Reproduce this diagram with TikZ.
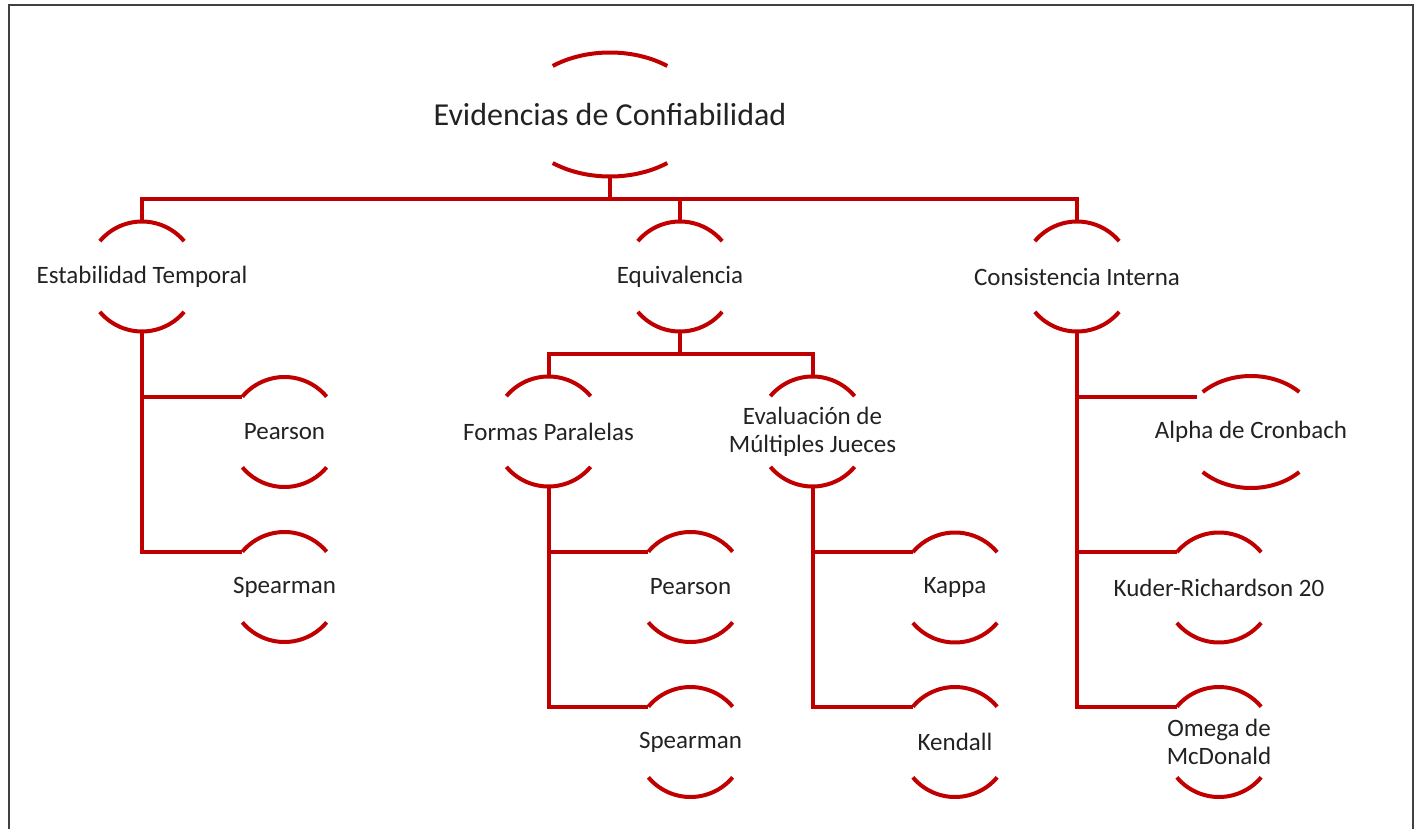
\documentclass[tikz,border=0pt]{standalone}
\usepackage{fontspec}
\setmainfont{Carlito}
\usetikzlibrary{shapes.geometric}
\definecolor{tred}{HTML}{C00000}
\definecolor{ttext}{HTML}{222222}
\tikzset{
  arcline/.style={draw=tred, line width=2pt},
  conn/.style={draw=tred, line width=2pt},
  lbl/.style={font=\fontsize{12.5}{14}\selectfont, text=ttext, align=center},
  titlelbl/.style={font=\fontsize{16}{19}\selectfont, text=ttext},
  cnode/.style={circle, minimum size=55pt, inner sep=0pt, outer sep=0pt},
  enode/.style={ellipse, inner sep=0pt, outer sep=0pt},
}
\newcommand\arcpair[4]{%
  \draw[arcline] (#1.center) ++({180-#4}:#2 and #3) arc[start angle={180-#4}, end angle=#4, x radius=#2, y radius=#3];
  \draw[arcline] (#1.center) ++({180+#4}:#2 and #3) arc[start angle={180+#4}, end angle={360-#4}, x radius=#2, y radius=#3];}
\begin{document}
\begin{tikzpicture}[x=0.5pt,y=0.5pt]
\useasboundingbox (0,0) rectangle (1423,-829);
\begin{scope}
\clip (0,0) rectangle (1423,-829);
\draw[black!75, line width=1pt] (9,-5) rectangle (1413,-900);
\end{scope}

% nodes
\node[enode, minimum width=92pt, minimum height=62pt, label={[titlelbl]center:Evidencias de Confiabilidad}] (root) at (610,-114.5) {};
\node[cnode, label={[lbl]center:Estabilidad Temporal}] (et) at (142,-276.5) {};
\node[cnode, label={[lbl]center:Equivalencia}] (eq) at (680,-276.5) {};
\node[cnode, label={[lbl]center:Consistencia Interna}] (ci) at (1077,-276.5) {};
\node[cnode, label={[lbl]center:Formas Paralelas}] (fp) at (548.5,-431.5) {};
\node[cnode, label={[lbl]center:Evaluación de\\Múltiples Jueces}] (ev) at (812.5,-431.5) {};
\node[cnode, label={[lbl]center:Pearson}] (p1) at (284.5,-432) {};
\node[cnode, label={[lbl]center:Spearman}] (s1) at (284.5,-587) {};
\node[cnode, label={[lbl]center:Pearson}] (p2) at (690.5,-587) {};
\node[cnode, label={[lbl]center:Spearman}] (s2) at (690.5,-742) {};
\node[cnode, label={[lbl]center:Kappa}] (k1) at (955,-587.5) {};
\node[cnode, label={[lbl]center:Kendall}] (k2) at (955,-742) {};
\node[enode, minimum width=69pt, minimum height=56pt, label={[lbl]center:Alpha de Cronbach}] (al) at (1251,-432) {};
\node[cnode, label={[lbl]center:Kuder-Richardson 20}] (kr) at (1219,-587.5) {};
\node[cnode, label={[lbl]center:Omega de\\McDonald}] (om) at (1219,-742) {};

% arcs
\arcpair{root}{92}{62}{51.5}
\foreach \n in {et,eq,ci,fp,ev,p1,s1,p2,s2,k1,k2,kr,om}{\arcpair{\n}{55}{55}{40}}
\arcpair{al}{69}{56}{45.6}

% connectors
\coordinate (bus1) at (610,-198.5);
\coordinate (bus2) at (680,-354);
\draw[conn] (root.south) -- (bus1);
\draw[conn] (et.north) |- (bus1) -| (ci.north);
\draw[conn] (eq.north) -- (eq.north |- bus1);
\draw[conn] (eq.south) -- (bus2);
\draw[conn] (fp.north) |- (bus2) -| (ev.north);
\draw[conn] (et.south) |- (p1.140);
\draw[conn] (et.south) |- (s1.140);
\draw[conn] (fp.south) |- (p2.140);
\draw[conn] (fp.south) |- (s2.140);
\draw[conn] (ev.south) |- (k1.140);
\draw[conn] (ev.south) |- (k2.140);
\draw[conn] (ci.south) |- (al.147);
\draw[conn] (ci.south) |- (kr.140);
\draw[conn] (ci.south) |- (om.140);
\end{tikzpicture}
\end{document}
